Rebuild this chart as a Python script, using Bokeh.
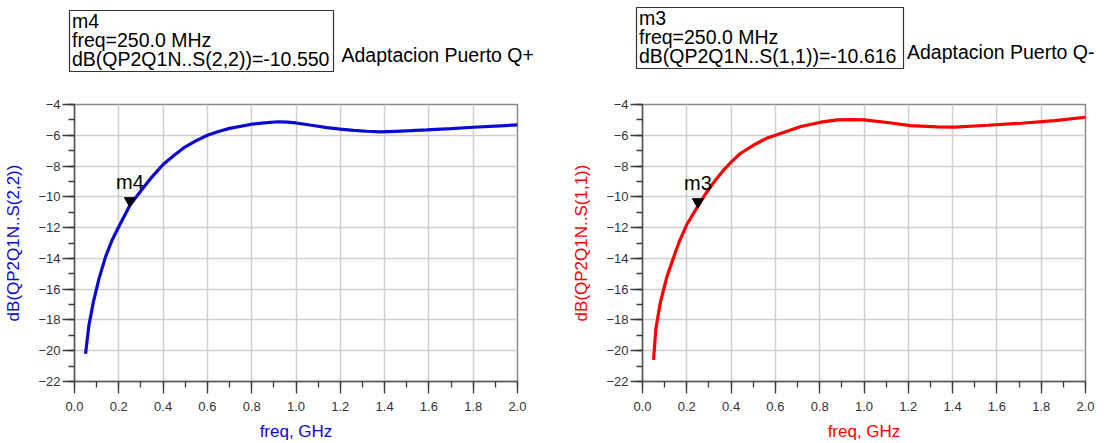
from bokeh.plotting import figure
from bokeh.models import Label, FixedTicker, Range1d
from bokeh.layouts import row, column
from bokeh.core.properties import value
from bokeh.embed import file_html
from bokeh.resources import INLINE

# ---------------- data ----------------
freq_qplus = [0.05, 0.065, 0.085, 0.11, 0.14, 0.17, 0.20, 0.25, 0.30, 0.35, 0.40, 0.45,
              0.50, 0.55, 0.60, 0.65, 0.70, 0.80, 0.87, 0.92, 0.96, 1.00, 1.07, 1.14,
              1.20, 1.26, 1.32, 1.38, 1.45, 1.52, 1.59, 1.70, 1.80, 1.90, 2.00]
db_s22 = [-20.2, -18.35, -16.85, -15.35, -13.9, -12.8, -11.95, -10.55, -9.6, -8.7, -7.9, -7.3,
          -6.75, -6.35, -6.0, -5.75, -5.55, -5.28, -5.18, -5.12, -5.15, -5.2, -5.35, -5.5,
          -5.6, -5.68, -5.74, -5.78, -5.74, -5.7, -5.65, -5.57, -5.48, -5.4, -5.33]

freq_qminus = [0.05, 0.06, 0.08, 0.11, 0.14, 0.165, 0.20, 0.25, 0.29, 0.33, 0.37, 0.40, 0.44,
               0.50, 0.56, 0.61, 0.715, 0.805, 0.88, 0.95, 1.00, 1.106, 1.21, 1.33, 1.41,
               1.56, 1.71, 1.86, 2.00]
db_s11 = [-20.6, -18.6, -16.9, -15.2, -13.95, -12.95, -11.8, -10.6, -9.7, -8.9, -8.2, -7.75, -7.2,
          -6.65, -6.2, -5.95, -5.43, -5.15, -5.0, -4.98, -5.0, -5.17, -5.37, -5.45, -5.47,
          -5.35, -5.22, -5.05, -4.83]

marker_names = ["m4", "m3"]
marker_freq = [0.25, 0.25]
marker_db = [-10.550, -10.616]
marker_meas = ["dB(QP2Q1N..S(2,2))", "dB(QP2Q1N..S(1,1))"]
titles = ["Adaptacion Puerto Q+", "Adaptacion Puerto Q-"]
y_labels = ["dB(QP2Q1N..S(2,2))", "dB(QP2Q1N..S(1,1))"]
x_label = "freq, GHz"
x_ticks = [0.0, 0.2, 0.4, 0.6, 0.8, 1.0, 1.2, 1.4, 1.6, 1.8, 2.0]
y_ticks = [-22, -20, -18, -16, -14, -12, -10, -8, -6, -4]

FONT = "Liberation Sans"
W, H = 1106, 443
TOP_H = 95

# ---------------- header strip (marker readouts + titles) ----------------
top = figure(width=W, height=TOP_H, output_backend="svg", toolbar_location=None,
             x_range=Range1d(0, W), y_range=Range1d(TOP_H, 0),
             min_border=0, min_border_left=0, min_border_right=0,
             min_border_top=0, min_border_bottom=0)
top.axis.visible = False
top.grid.visible = False
top.outline_line_color = None
top.background_fill_color = "white"
top.border_fill_color = "white"

# box geometry in pixels (left, right, top, bottom), text x, title x, title middle
boxes = [(69, 333, 10, 71, 71.5, 341, 54),
         (636, 903, 7, 68, 638.5, 906.5, 51)]
for i, (bl_, br_, bt_, bb_, tx, ttx, tty) in enumerate(boxes):
    top.quad(left=[bl_], right=[br_], top=[bt_], bottom=[bb_],
             fill_color="white", line_color="#333333", line_width=1.2)
    lines = [marker_names[i], "freq=250.0 MHz",
             f"{marker_meas[i]}={marker_db[i]:.3f}"]
    ys = [bt_ + 10.5, bt_ + 29.5, bt_ + 48.5]
    top.text(x=[tx] * 3, y=ys, text=lines, text_font=value(FONT),
             text_font_size="19.5px", text_color="black",
             text_align="left", text_baseline="middle")
    top.text(x=[ttx], y=[tty], text=[titles[i]], text_font=value(FONT),
             text_font_size="19.5px", text_color="black",
             text_align="left", text_baseline="middle")


def make_panel(freq, vals, color, idx, width, bl, br, bt, bb):
    h = H - TOP_H
    p = figure(width=width, height=h, output_backend="svg", toolbar_location=None,
               x_range=Range1d(0, 2), y_range=Range1d(-22, -4),
               min_border_left=bl, min_border_right=br,
               min_border_top=bt, min_border_bottom=bb)
    p.background_fill_color = "white"
    p.border_fill_color = "white"
    p.outline_line_color = "#8a8a8a"
    p.outline_line_width = 1.5

    fh = h - bt - bb

    p.xaxis.ticker = FixedTicker(ticks=x_ticks, minor_ticks=[i / 10 for i in range(21)])
    p.yaxis.ticker = FixedTicker(ticks=y_ticks, minor_ticks=list(range(-22, -3)))
    p.xaxis.major_label_overrides = {t: f"{t:.1f}" for t in x_ticks}
    for ax in (p.xaxis[0], p.yaxis[0]):
        ax.axis_line_color = "#5a5a5a"
        ax.axis_line_width = 1.5
        ax.major_tick_line_color = "#3a3a3a"
        ax.minor_tick_line_color = "#3a3a3a"
        ax.major_tick_line_width = 1.3
        ax.minor_tick_line_width = 1.3
        ax.major_tick_out = 12
        ax.major_tick_in = 0
        ax.minor_tick_out = 6
        ax.minor_tick_in = 0
        ax.major_label_text_font = FONT
        ax.major_label_text_font_size = "13px"
        ax.major_label_text_color = "#333333"
        ax.axis_label_text_font = FONT
        ax.axis_label_text_font_style = "normal"
        ax.axis_label_text_font_size = "17px"
        ax.axis_label_text_color = color
    p.xaxis.major_label_standoff = 8
    p.yaxis.major_label_standoff = 2
    p.xaxis.axis_label = x_label
    p.yaxis.axis_label = y_labels[idx]
    p.xaxis.axis_label_standoff = 8
    p.yaxis.axis_label_standoff = 12

    p.grid.grid_line_color = "#cfcfcf"
    p.grid.grid_line_width = 1.5

    p.line(freq, vals, line_color=color, line_width=3.2)

    # marker triangle: tip at the data point
    tri_h = 9
    shift = tri_h / 2 / fh * 18.0
    p.scatter([marker_freq[idx]], [marker_db[idx] + shift], marker="inverted_triangle",
              size=11, fill_color="black", line_color="black")
    p.add_layout(Label(x=marker_freq[idx], y=marker_db[idx], y_offset=12,
                       text=marker_names[idx], text_align="center", text_baseline="bottom",
                       text_font=FONT, text_font_size="20px", text_color="black"))
    return p


p1 = make_panel(freq_qplus, db_s22, "#0a0ad2", 0, 560, 74, 43, 104 - TOP_H, 61)
p2 = make_panel(freq_qminus, db_s11, "#ff0000", 1, 546, 82, 21, 101 - TOP_H, 61)

layout = column(top, row(p1, p2))
open("out.html", "w").write(file_html(layout, INLINE))
